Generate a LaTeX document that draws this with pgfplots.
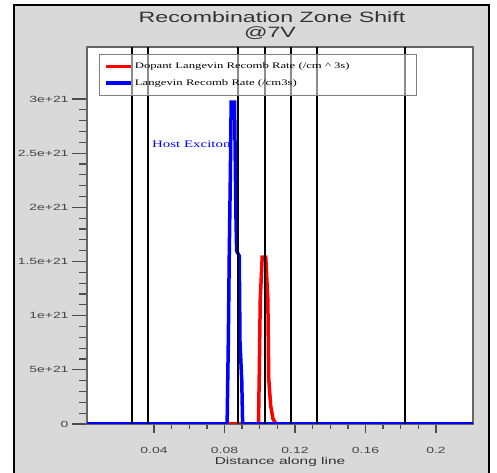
\documentclass[border=0pt]{standalone}
\usepackage{fontspec}
\setmainfont{Liberation Serif}
\newfontfamily\sansS[FakeStretch=1.55]{Liberation Sans}
\newfontfamily\serifS[FakeStretch=1.5]{Liberation Serif}
\usepackage{pgfplots}
\pgfplotsset{compat=1.18}
\definecolor{bggray}{HTML}{D9D9D9}
\definecolor{ticktxt}{HTML}{444444}

\begin{document}
\begin{tikzpicture}
% grey panel with black frame
\fill[bggray] (14bp,0) rectangle (489bp,468bp);
\draw[black, line width=1.5bp] (14bp,0) -- (14bp,468bp) -- (489bp,468bp) -- (489bp,0);
\node[font=\sansS\fontsize{15}{17}\selectfont, text=black!80] at (272bp,456bp) {Recombination Zone Shift};
\node[font=\sansS\fontsize{15}{17}\selectfont, text=black!80] at (270bp,440bp) {@7V};

\begin{axis}[%
scale only axis,
width=386bp,
height=377bp,
at={(87bp,49bp)},
anchor=south west,
xmin=0.002, xmax=0.221,
ymin=0, ymax=3.48e21,
scaled y ticks=false,
axis background/.style={fill=white},
axis line style={draw=gray!80!black, line width=1.2bp},
xtick={0.04,0.08,0.12,0.16,0.2},
xticklabels={0.04,0.08,0.12,0.16,0.2},
minor x tick num=3,
ytick={0,0.5e21,1e21,1.5e21,2e21,2.5e21,3e21},
yticklabels={0,5e+21,1e+21,1.5e+21,2e+21,2.5e+21,3e+21},
minor y tick num=4,
tick align=outside,
xtick pos=left, ytick pos=left,
major tick length=15bp, minor tick length=8bp,
xtick style={/pgfplots/major tick length=9bp, /pgfplots/minor tick length=5bp},
every tick/.style={draw=gray!60!black, line width=1.3bp},
tick label style={font=\sansS\fontsize{9}{10}\selectfont, text=ticktxt},
xticklabel style={yshift=-5bp},
xlabel={Distance along line},
xlabel style={font=\sansS\fontsize{10}{12}\selectfont, text=black!80, yshift=3bp},
legend cell align=left,
legend style={at={(0.031,0.981)}, anchor=north west, draw=gray, line width=0.8bp,
  fill=white, fill opacity=0.55, text opacity=1, inner xsep=5bp, inner ysep=6.5bp,
  row sep=5bp,
  font=\serifS\fontsize{8.5}{10}\selectfont},
legend image code/.code={\draw[#1, line width=3.5bp] (0bp,0bp) -- (25bp,0bp);},
]
\addplot [color=red, line width=3.5bp] coordinates {
(0.002,0) (0.0993,0) (0.0997,0.42e21) (0.1003,1.15e21) (0.1014,1.54e21)
(0.1034,1.54e21) (0.1046,1.15e21) (0.1051,0.42e21) (0.1062,0.17e21)
(0.1075,0.05e21) (0.1092,0) (0.221,0)
};
\addlegendentry{Dopant Langevin Recomb Rate (/cm \textasciicircum{} 3s)\hspace*{60bp}}
\addplot [color=blue, line width=3.5bp] coordinates {
(0.002,0) (0.0815,0) (0.0822,0.80e21) (0.0827,1.55e21) (0.0833,2.26e21)
(0.0838,2.97e21) (0.0857,2.97e21) (0.0865,1.92e21) (0.0869,1.60e21)
(0.0884,1.55e21) (0.0888,0.76e21) (0.0898,0.40e21) (0.0903,0) (0.221,0)
};
\addlegendentry{Langevin Recomb Rate (/cm3s)}
% vertical marker lines
\addplot [black, line width=2bp, forget plot] coordinates {(0.0277,0) (0.0277,3.48e21)};
\addplot [black, line width=2bp, forget plot] coordinates {(0.0368,0) (0.0368,3.48e21)};
\addplot [black, line width=2bp, forget plot] coordinates {(0.0874,0) (0.0874,3.48e21)};
\addplot [black, line width=2bp, forget plot] coordinates {(0.1029,0) (0.1029,3.48e21)};
\addplot [black, line width=2bp, forget plot] coordinates {(0.1176,0) (0.1176,3.48e21)};
\addplot [black, line width=2bp, forget plot] coordinates {(0.1327,0) (0.1327,3.48e21)};
\addplot [black, line width=2bp, forget plot] coordinates {(0.1826,0) (0.1826,3.48e21)};
\node[font=\serifS\fontsize{10}{12}\selectfont, text=blue] at (axis cs:0.0612,2.58e21) {Host Exciton};
\end{axis}
\pgfresetboundingbox
\useasboundingbox (0,0) rectangle (497bp,473bp);
\end{tikzpicture}
\end{document}
